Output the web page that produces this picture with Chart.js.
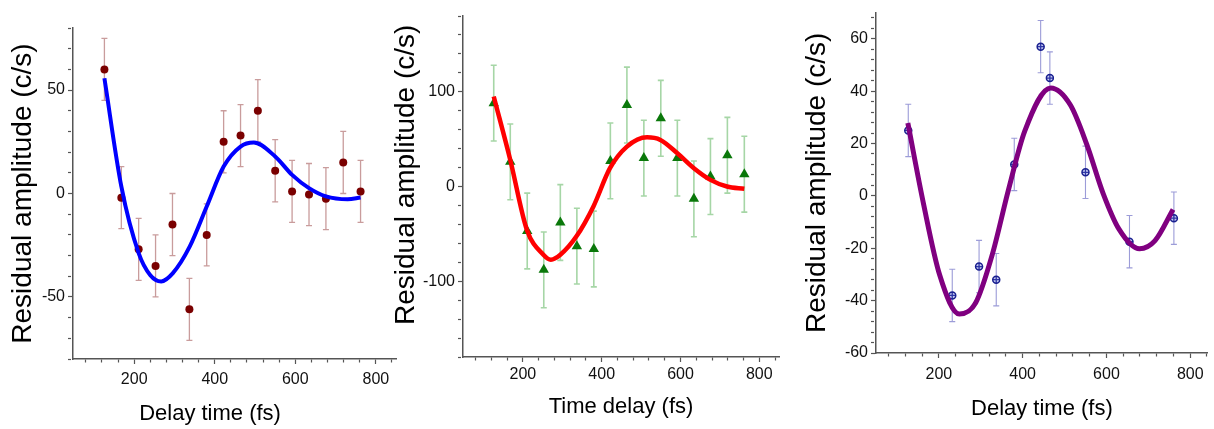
<!DOCTYPE html>
<html>
<head>
<meta charset="utf-8">
<script src="https://cdn.jsdelivr.net/npm/chart.js"></script>
<style>
  body { margin: 0; background: #fff; overflow: hidden; width: 1214px; height: 429px; }
  canvas { position: absolute; top: 0; }
</style>
</head>
<body>
<canvas id="chartA" width="400" height="429" style="left:0"></canvas>
<canvas id="chartB" width="393" height="429" style="left:392px"></canvas>
<canvas id="chartC" width="419" height="429" style="left:795px"></canvas>
<script>
// Panel A (blue fit, dark red dots)
const delayA = [126, 168, 211, 253, 295, 337, 380, 422, 464, 507, 550, 592, 634, 676, 719, 762];
const ampA = [60, -2, -27, -35, -15, -56, -20, 25, 28, 40, 11, 1, -0.5, -2.5, 15, 1];
const errA = [15, 15, 15, 15, 15, 15, 15, 15, 15, 15, 15, 15, 15, 15, 15, 15];
const fitXA = [126, 168, 211, 240, 267, 296, 338, 380, 422, 464, 497, 550, 592, 634, 676, 730, 762];
const fitYA = [55.7, 3.4, -28.8, -39.5, -42.5, -38.5, -25.6, -6.3, 13, 22.7, 24.6, 17.9, 9, 2.6, -1.4, -2.8, -1.9];

// Panel B (red fit, green triangles)
const delayB = [126, 168, 211, 253, 295, 337, 380, 422, 464, 507, 550, 592, 634, 676, 719, 762];
const ampB = [88, 26, -47, -88, -38, -63, -66, 27, 86, 30, 72, 30, -13, 10.5, 33, 13];
const errB = [40, 40, 40, 40, 40, 40, 40, 40, 40, 40, 40, 40, 40, 40, 40, 40];
const fitXB = [126, 168, 210, 252, 271, 295, 336, 379, 421, 464, 515, 549, 592, 634, 676, 718, 762];
const fitYB = [95, 28, -45.6, -72, -77.2, -72, -52.6, -21, 19.3, 42.1, 52, 49.2, 35.1, 19.3, 7, 0, -2.4];

// Panel C (purple fit, navy crossed circles)
const delayC = [127, 232, 296, 337, 380, 443, 465, 550, 655, 761];
const ampC = [25, -38, -27, -32, 12, 57, 45, 9, -17.5, -8.5];
const errC = [10, 10, 10, 10, 10, 10, 10, 10, 10, 10];
const fitXC = [126, 163, 202, 249, 288, 327, 366, 405, 467, 514, 553, 592, 630, 679, 716, 759];
const fitYC = [27.8, -2.7, -30.2, -45.1, -40.8, -22.7, 2.2, 24.7, 41.2, 34.7, 19.7, 1, -12.7, -20.2, -17.1, -5.2];

const yTitle = 'Residual amplitude (c/s)';
const FONT = "'Liberation Sans', Arial, sans-serif";

function pts(xs, ys) { return xs.map((x, i) => ({x: x, y: ys[i]})); }

// vertical error bars drawn with the chart's own scales
const errorBars = {
  id: 'errorBars',
  beforeDatasetsDraw(chart, args, opts) {
    if (!opts.xs) return;
    const ctx = chart.ctx, x = chart.scales.x, y = chart.scales.y;
    ctx.save();
    ctx.strokeStyle = opts.color;
    ctx.lineWidth = opts.width;
    opts.xs.forEach((xv, i) => {
      const px = x.getPixelForValue(xv);
      const top = y.getPixelForValue(opts.ys[i] + opts.errs[i]);
      const bot = y.getPixelForValue(opts.ys[i] - opts.errs[i]);
      ctx.beginPath();
      ctx.moveTo(px, top); ctx.lineTo(px, bot);
      ctx.moveTo(px - 3, top); ctx.lineTo(px + 3, top);
      ctx.moveTo(px - 3, bot); ctx.lineTo(px + 3, bot);
      ctx.stroke();
    });
    ctx.restore();
  }
};

function axisGrid(isMajor) {
  return {
    drawOnChartArea: false,
    drawTicks: true,
    tickLength: 5,
    tickColor: '#555',
    tickWidth: 1.2,
    tickBorderDash: ctx => (ctx.tick && isMajor(ctx.tick.value)) ? [] : [3, 50]
  };
}

function makePanel(id, p) {
  const yMajor = v => Math.abs(v % p.yLabelStep) < 1e-6;
  const xMajor = v => v % 200 === 0;
  return new Chart(document.getElementById(id), {
    type: 'scatter',
    data: {
      datasets: [
        {
          type: 'line', data: pts(p.fitX, p.fitY), borderColor: p.fitColor, borderWidth: p.fitWidth,
          pointRadius: 0, cubicInterpolationMode: 'monotone', fill: false
        }
      ].concat(p.markers)
    },
    plugins: [errorBars],
    options: {
      responsive: false,
      animation: false,
      devicePixelRatio: 1,
      layout: {padding: {top: p.top, right: p.right, left: 0, bottom: 0}},
      plugins: {
        legend: {display: false},
        tooltip: {enabled: false},
        errorBars: {xs: p.xs, ys: p.ys, errs: p.errs, color: p.errColor, width: p.errWidth}
      },
      scales: {
        x: {
          type: 'linear', min: p.xMin, max: p.xMax,
          afterFit: s => { s.height = p.xHeight; },
          border: {display: true, color: '#555', width: 1.5},
          grid: axisGrid(xMajor),
          ticks: {
            stepSize: 40, includeBounds: false, autoSkip: false, maxRotation: 0,
            padding: p.xTickPad, color: '#111', font: {family: FONT, size: 16},
            callback: v => xMajor(v) ? v : ''
          },
          title: {
            display: true, text: p.xTitle, color: '#000',
            font: {family: FONT, size: 22, lineHeight: 1},
            padding: {top: 0, bottom: p.xTitlePad}
          }
        },
        y: {
          type: 'linear', min: p.yMin, max: p.yMax,
          afterFit: s => { s.width = p.yWidth; },
          border: {display: true, color: '#555', width: 1.5},
          grid: axisGrid(yMajor),
          ticks: {
            stepSize: p.yStep, includeBounds: false, autoSkip: false,
            padding: 3, color: '#111', font: {family: FONT, size: 16},
            callback: v => yMajor(v) ? v : ''
          },
          title: {
            display: true, text: p.yTitleText || yTitle, color: '#000',
            font: {family: FONT, size: 28, lineHeight: 1},
            padding: {top: p.yTitlePad, bottom: 0}
          }
        }
      }
    }
  });
}

makePanel('chartA', {
  fitX: fitXA, fitY: fitYA, fitColor: '#0000ff', fitWidth: 4,
  markers: [{
    data: pts(delayA, ampA), pointStyle: 'circle', pointRadius: 4,
    backgroundColor: '#7a0000', borderColor: '#7a0000', borderWidth: 0
  }],
  xs: delayA, ys: ampA, errs: errA, errColor: '#c99c9c', errWidth: 1.3,
  top: 28, right: 3, yWidth: 73, xHeight: 70, xMin: 48, xMax: 850,
  yMin: -80, yMax: 80, yStep: 10, yLabelStep: 50,
  xTickPad: 6, xTitle: 'Delay time (fs)        ', xTitlePad: 4, yTitlePad: 9
});

makePanel('chartB', {
  fitX: fitXB, fitY: fitYB, fitColor: '#ff0000', fitWidth: 4.5,
  markers: [{
    data: pts(delayB, ampB), pointStyle: 'triangle', pointRadius: 6,
    backgroundColor: '#0a780a', borderColor: '#0a780a', borderWidth: 0
  }],
  xs: delayB, ys: ampB, errs: errB, errColor: '#a6d6a6', errWidth: 1.6,
  top: 16, right: 5, yWidth: 71, xHeight: 72, xMin: 48, xMax: 850,
  yMin: -180, yMax: 180, yStep: 20, yLabelStep: 100,
  xTickPad: 3, xTitle: 'Time delay (fs)', xTitlePad: 11, yTitlePad: 0,
  yTitleText: '   ' + yTitle
});

makePanel('chartC', {
  fitX: fitXC, fitY: fitYC, fitColor: '#800080', fitWidth: 5,
  markers: [
    {
      data: pts(delayC, ampC), pointStyle: 'circle', pointRadius: 3.5,
      backgroundColor: 'rgba(90,100,210,0.35)', borderColor: '#1a2090', borderWidth: 1.5
    },
    {
      data: pts(delayC, ampC), pointStyle: 'cross', pointRadius: 3.5,
      borderColor: '#1a2090', borderWidth: 1.2
    }
  ],
  xs: delayC, ys: ampC, errs: errC, errColor: '#9c9cd8', errWidth: 1.1,
  top: 6, right: 0, yWidth: 81, xHeight: 76, xMin: 50, xMax: 842,
  yMin: -60, yMax: 70, yStep: 4, yLabelStep: 20,
  xTickPad: 7, xTitle: 'Delay time (fs)', xTitlePad: 9, yTitlePad: 8
});
</script>
</body>
</html>
